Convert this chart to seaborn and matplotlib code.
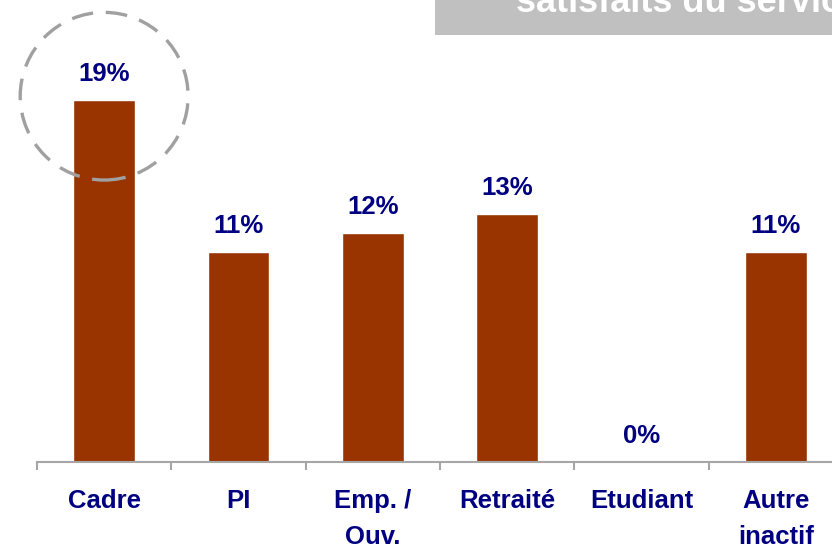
import matplotlib
matplotlib.use("Agg")
import matplotlib.pyplot as plt
from matplotlib.patches import Ellipse, Rectangle
import seaborn as sns
import pandas as pd

# Share of respondents by socio-professional category
categories = ["Cadre", "PI", "Emp. /\nOuv.", "Retraité", "Etudiant", "Autre\ninactif"]
values = [19, 11, 12, 13, 0, 11]
value_labels = ["19%", "11%", "12%", "13%", "0%", "11%"]
header_text = "satisfaits du service"

BAR = "#993300"
NAVY = "#000080"
GREY = "#A6A6A6"

sns.set_theme(style="white")
plt.rcParams["font.family"] = ["Liberation Sans", "DejaVu Sans"]

fig = plt.figure(figsize=(8.32, 5.46), dpi=100)
ax = fig.add_axes([37 / 832, 84 / 546, 806 / 832, 462 / 546])
ax.patch.set_visible(False)

df = pd.DataFrame({"cat": categories, "val": values})
sns.barplot(data=df, x="cat", y="val", color=BAR, saturation=1, width=0.46, ax=ax)

ax.set_xlim(-0.5, len(categories) - 0.5)
ax.set_ylim(0, 24.25)
ax.set_xlabel("")
ax.set_ylabel("")
ax.set_yticks([])

for s in ("top", "right", "left"):
    ax.spines[s].set_visible(False)
ax.spines["bottom"].set_color(GREY)
ax.spines["bottom"].set_linewidth(1.5)

# Category boundaries as tick marks, labels centred under bars
ax.set_xticks([i - 0.5 for i in range(len(categories) + 1)], minor=True)
ax.tick_params(axis="x", which="minor", length=6, width=1.5, color=GREY, direction="out", bottom=True)
ax.tick_params(axis="x", which="major", length=0, pad=19.5)
for lab in ax.get_xticklabels():
    lab.set_fontsize(18.5)
    lab.set_fontweight("bold")
    lab.set_color(NAVY)
    lab.set_linespacing(1.62)

# Value labels above bars
for i, (v, t) in enumerate(zip(values, value_labels)):
    ax.annotate(t, (i, v), xytext=(0, 13.7), textcoords="offset points",
                ha="center", va="baseline", fontsize=18.5, fontweight="bold", color=NAVY)

# Highlight around the top category
top = values[0]
ax.add_patch(Ellipse((0, top + 0.2), width=1.25, height=8.8, fill=False,
                     edgecolor="#A0A0A0", linewidth=2.4, linestyle=(0, (6.5, 3.8)), clip_on=False))

# Header banner
fig.add_artist(Rectangle((435 / 832, 1 - 35 / 546), 1, 35 / 546,
                         transform=fig.transFigure, facecolor="#C0C0C0", edgecolor="none", zorder=5))
fig.text(516 / 832, 1 - 12 / 546, header_text, ha="left", va="baseline",
         fontsize=26, fontweight="bold", color="white", zorder=6)

fig.savefig("out.png", dpi=100)
